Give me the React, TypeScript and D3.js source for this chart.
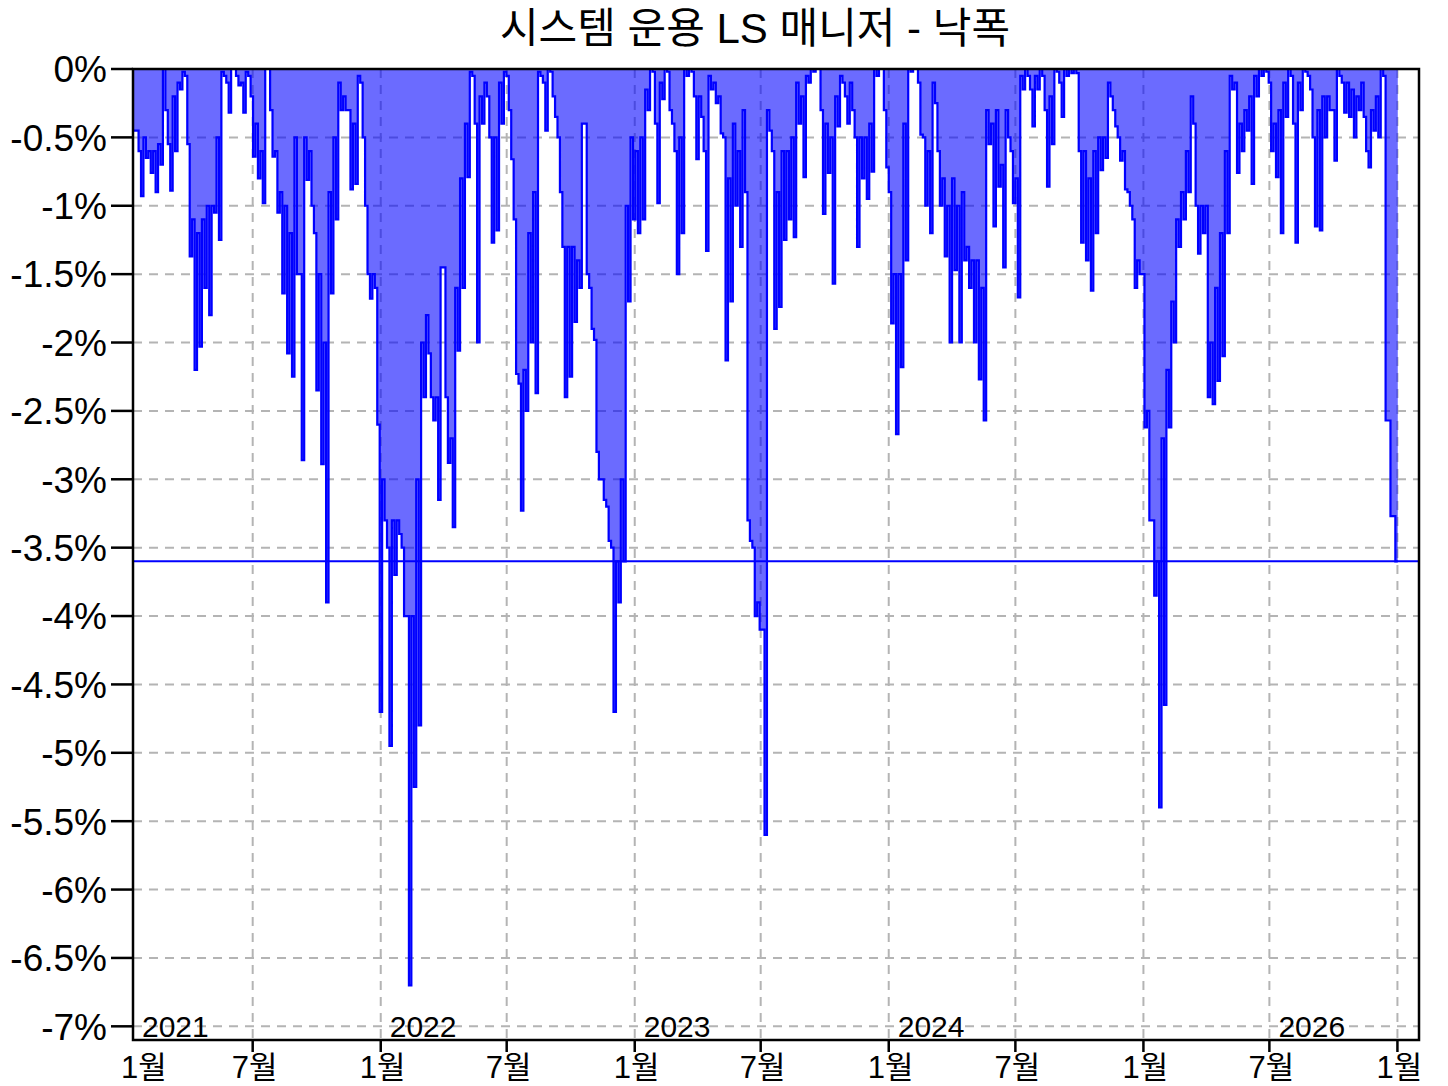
import React from 'react';
import * as d3 from 'd3';

// weekly readings (%), 52 per block, first week starts 2021-01-11
// level = where the shaded area sits that week, low = deepest spike that week
const level2021 = [
  -0.45, -0.6, -0.5, -0.6, -0.6, -0.55, 0, -0.55, -0.2, -0.1, -0.02, -0.55, -1.1,
  -1.2, -1.1, -1.0, -1.0, -0.5, -0.02, -0.1, 0, -0.05, -0.1, -0.02, -0.2, -0.4,
  -0.6, 0, -0.3, -0.6, -0.9, -1.0, -1.2, -0.5, -1.5, -0.5, -0.6, -1.2, -1.5,
  -2.0, -0.9, -0.5, -0.1, -0.2, -0.3, -0.4, -0.05, -0.5, -1.5, -1.5, -2.6, -3.0,
];
const low2021 = [
  -0.45, -0.93, -0.65, -0.76, -0.9, -0.7, -0.3, -0.89, -0.6, -0.15, -0.05, -1.37, -2.2,
  -2.03, -1.6, -1.8, -1.05, -1.25, -0.05, -0.32, 0, -0.12, -0.32, -0.05, -0.64, -0.8,
  -0.98, 0, -0.64, -1.05, -1.64, -2.08, -2.25, -1.5, -2.86, -0.81, -1.0, -2.35, -2.89,
  -3.9, -1.64, -1.1, -0.3, -0.3, -0.88, -0.84, -0.1, -1.0, -1.68, -1.6, -4.7, -3.3,
];
const level2022 = [
  -3.5, -3.3, -3.3, -3.5, -4.0, -4.0, -3.0, -2.0, -1.8, -2.4, -2.4, -1.45, -2.4,
  -2.7, -1.6, -0.8, -0.4, -0.02, -0.4, -0.2, -0.1, -0.5, -0.5, -0.1, -0.02, -0.3,
  -1.1, -2.3, -2.2, -1.2, -0.9, -0.02, -0.1, 0, -0.2, -0.5, -1.3, -1.3, -1.3,
  -1.4, -0.4, -1.5, -1.9, -2.8, -3.0, -3.2, -3.5, -3.6, -3.0, -1.0, -0.5, -0.6,
];
const low2022 = [
  -4.95, -3.7, -3.4, -4.0, -6.7, -5.25, -4.8, -2.4, -2.08, -2.57, -3.15, -1.45, -2.88,
  -3.35, -2.06, -1.6, -0.79, -0.05, -2.0, -0.4, -0.2, -1.27, -1.18, -0.4, -0.05, -0.66,
  -2.23, -3.23, -2.5, -2.0, -2.37, -0.05, -0.45, -0.02, -0.35, -0.9, -2.4, -2.25, -1.85,
  -1.6, -0.4, -1.6, -1.98, -3.0, -3.15, -3.45, -4.7, -3.9, -3.6, -1.7, -1.1, -1.2,
];
const level2023 = [
  -0.5, -0.15, 0, -0.4, -0.1, 0, -0.3, -0.6, -0.5, 0, 0, -0.2, -0.2,
  -0.6, -0.05, -0.1, -0.2, -0.5, -0.8, -0.4, -0.6, -0.3, -3.3, -3.5, -3.9, -4.1,
  -0.3, -0.6, -0.9, -0.6, -0.6, -0.5, -0.1, -0.2, -0.05, 0, 0, -0.3, -0.4,
  -0.5, -0.2, -0.05, -0.2, -0.1, -0.5, -0.5, -0.5, -0.4, 0, 0, -0.3, -0.9,
];
const low2023 = [
  -1.1, -0.3, -0.02, -0.98, -0.22, -0.02, -0.4, -1.5, -1.2, -0.05, -0.02, -0.66, -0.35,
  -1.33, -0.15, -0.25, -0.47, -2.13, -1.7, -1.0, -1.3, -0.9, -3.45, -4.0, -4.1, -5.6,
  -0.45, -1.9, -1.74, -1.25, -1.1, -1.23, -0.4, -0.79, -0.1, -0.02, 0, -1.06, -0.76,
  -1.57, -0.42, -0.1, -0.4, -0.3, -1.3, -0.8, -0.95, -0.75, -0.05, 0, -0.72, -1.86,
];
const level2024 = [
  -1.5, -1.5, -0.4, 0, 0, -0.1, -0.5, -0.6, -0.1, -0.6, -0.8, -1.0, -0.8,
  -1.0, -0.9, -1.3, -1.4, -1.4, -1.6, -0.3, -0.4, -0.3, -0.7, -0.3, -0.6, -0.8,
  -0.05, 0, -0.15, -0.05, 0, -0.3, -0.2, 0, -0.1, 0, 0, 0,
  -0.6, -0.6, -0.8, -0.6, -0.5, -0.5, -0.1, -0.3, -0.5, -0.6, -0.9, -1.1, -1.4, -1.5,
];
const low2024 = [
  -2.67, -2.18, -1.4, -0.02, 0, -0.48, -1.0, -1.2, -0.25, -1.0, -1.37, -2.0, -1.47,
  -2.0, -1.4, -1.6, -2.0, -2.27, -2.57, -0.55, -1.15, -0.86, -1.45, -0.5, -0.98, -1.67,
  -0.15, -0.05, -0.42, -0.15, -0.05, -0.86, -0.55, -0.02, -0.35, -0.05, -0.03, -0.03,
  -1.27, -1.4, -1.62, -1.2, -0.74, -0.65, -0.2, -0.42, -0.67, -0.88, -1.0, -1.6, -1.5, -2.62,
];
const level2025 = [
  -2.5, -3.3, -3.6, -2.7, -2.2, -1.7, -1.1, -0.9, -0.6, -0.2, -1.0, -1.0, -1.0,
  -2.0, -1.6, -1.2, -0.6, -0.05, -0.1, -0.4, -0.3, -0.2, -0.05, 0, 0, -0.1,
  -0.4, -0.3, -0.1, 0, -0.4, -0.1, 0, -0.05, -0.5, -0.3, -0.2, -0.2, -0.3,
  0, -0.1, -0.1, -0.15, -0.2, -0.1, -0.6, -0.3, -0.2, 0, -2.57, -3.27, -3.6,
];
const low2025 = [
  -3.3, -3.85, -5.4, -4.65, -2.62, -2.0, -1.3, -1.1, -0.9, -0.4, -1.35, -1.2, -2.4,
  -2.45, -2.28, -2.1, -1.2, -0.15, -0.76, -0.6, -0.45, -0.84, -0.2, -0.05, -0.02, -0.6,
  -0.79, -1.2, -0.35, -0.05, -1.27, -0.3, -0.02, -0.15, -1.15, -1.18, -0.5, -0.3, -0.67,
  -0.05, -0.32, -0.35, -0.5, -0.3, -0.35, -0.72, -0.45, -0.5, -0.05, -2.57, -3.27, -3.6,
];

const currentDrawdown = -3.6;
const yTicks = [0, -0.5, -1, -1.5, -2, -2.5, -3, -3.5, -4, -4.5, -5, -5.5, -6, -6.5, -7];
const monthTicks = [
  '2021-01-01', '2021-07-01', '2022-01-01', '2022-07-01', '2023-01-01', '2023-07-01',
  '2024-01-01', '2024-07-01', '2025-01-01', '2025-07-01', '2026-01-01',
];
const yearLabels = [
  { date: '2021-01-01', label: '2021' },
  { date: '2022-01-01', label: '2022' },
  { date: '2023-01-01', label: '2023' },
  { date: '2024-01-01', label: '2024' },
  { date: '2025-07-01', label: '2026' },
];
const title = '시스템 운용 LS 매니저 - 낙폭';

const FONT = "'Liberation Sans', Arial, 'Noto Sans CJK KR', sans-serif";

interface Pt {
  date: Date;
  v: number;
}

const App: React.FC = () => {
  const width = 1448;
  const height = 1086;
  const margin = { top: 69, right: 29, bottom: 46, left: 133 };
  const x0 = margin.left;
  const x1 = width - margin.right;
  const y0 = margin.top;
  const y1 = height - margin.bottom;

  const parse = d3.utcParse('%Y-%m-%d');
  const start = parse('2021-01-11')!;
  const levels = [...level2021, ...level2022, ...level2023, ...level2024, ...level2025];
  const lows = [...low2021, ...low2022, ...low2023, ...low2024, ...low2025];

  // each week: first half at the shaded level, second half at the spike
  const data: Pt[] = [];
  levels.forEach((lv, i) => {
    const wk = d3.utcDay.offset(start, i * 7);
    data.push({ date: wk, v: lv });
    data.push({ date: d3.utcHour.offset(wk, 84), v: lows[i] });
  });

  const xScale = d3
    .scaleUtc()
    .domain([parse('2021-01-10')!, parse('2026-02-01')!])
    .range([x0, x1]);
  const yScale = d3.scaleLinear().domain([-7.1, 0]).range([y1, y0]);

  const area = d3
    .area<Pt>()
    .x((d) => xScale(d.date))
    .y0(yScale(0))
    .y1((d) => yScale(d.v))
    .curve(d3.curveStepAfter);
  const line = d3
    .line<Pt>()
    .x((d) => xScale(d.date))
    .y((d) => yScale(d.v))
    .curve(d3.curveStepAfter);

  return (
    <svg
      width={width}
      height={height}
      style={{ position: 'absolute', left: 0, top: 0, background: '#fff' }}
      fontFamily={FONT}
    >
      <defs>
        <clipPath id="plot-clip">
          <rect x={x0} y={y0} width={x1 - x0} height={y1 - y0} />
        </clipPath>
      </defs>
      <rect x={0} y={0} width={width} height={height} fill="#fff" />

      {/* grid */}
      <g stroke="#b4b4b4" strokeWidth={2} strokeDasharray="9,7">
        {yTicks.map((t) => (
          <line key={`gy${t}`} x1={x0} x2={x1} y1={yScale(t)} y2={yScale(t)} />
        ))}
        {monthTicks.map((m) => {
          const xv = xScale(parse(m)!);
          if (xv <= x0 + 1) return null;
          return <line key={`gx${m}`} x1={xv} x2={xv} y1={y0} y2={y1} />;
        })}
      </g>

      {/* drawdown */}
      <g clipPath="url(#plot-clip)">
        <path d={area(data) ?? ''} fill="rgba(0,0,255,0.58)" stroke="none" />
        <path d={line(data) ?? ''} fill="none" stroke="#0000ff" strokeWidth={2.2} />
        <line
          x1={x0}
          x2={x1}
          y1={yScale(currentDrawdown)}
          y2={yScale(currentDrawdown)}
          stroke="#0000ff"
          strokeWidth={2}
        />
      </g>

      {/* frame */}
      <rect x={x0} y={y0} width={x1 - x0} height={y1 - y0} fill="none" stroke="#000" strokeWidth={2.5} />

      {/* y axis */}
      {yTicks.map((t) => (
        <g key={`yt${t}`}>
          <line x1={x0 - 22} x2={x0} y1={yScale(t)} y2={yScale(t)} stroke="#000" strokeWidth={2.5} />
          <text
            x={x0 - 26}
            y={yScale(t)}
            dy="0.36em"
            textAnchor="end"
            fontSize={37}
            fill="#000"
          >
            {`${t}%`}
          </text>
        </g>
      ))}

      {/* x axis */}
      {monthTicks.map((m) => {
        const d = parse(m)!;
        const xv = xScale(d);
        const inside = xv > x0 + 1;
        return (
          <g key={`xt${m}`}>
            {inside && (
              <line x1={xv} x2={xv} y1={y1} y2={y1 + 12} stroke="#000" strokeWidth={2.5} />
            )}
            <text
              x={Math.max(xv, x0 + 9) + 2}
              y={y1 + 27}
              dy="0.36em"
              textAnchor="middle"
              fontSize={31}
              fill="#000"
            >
              {`${d.getUTCMonth() + 1}월`}
            </text>
          </g>
        );
      })}

      {/* year labels */}
      {yearLabels.map((yl) => (
        <text
          key={yl.label}
          x={Math.max(xScale(parse(yl.date)!), x0) + 9}
          y={yScale(-7) + 11}
          fontSize={30}
          fill="#000"
        >
          {yl.label}
        </text>
      ))}

      <text x={755} y={43} textAnchor="middle" fontSize={42} fill="#000">
        {title}
      </text>
    </svg>
  );
};

export default App;
